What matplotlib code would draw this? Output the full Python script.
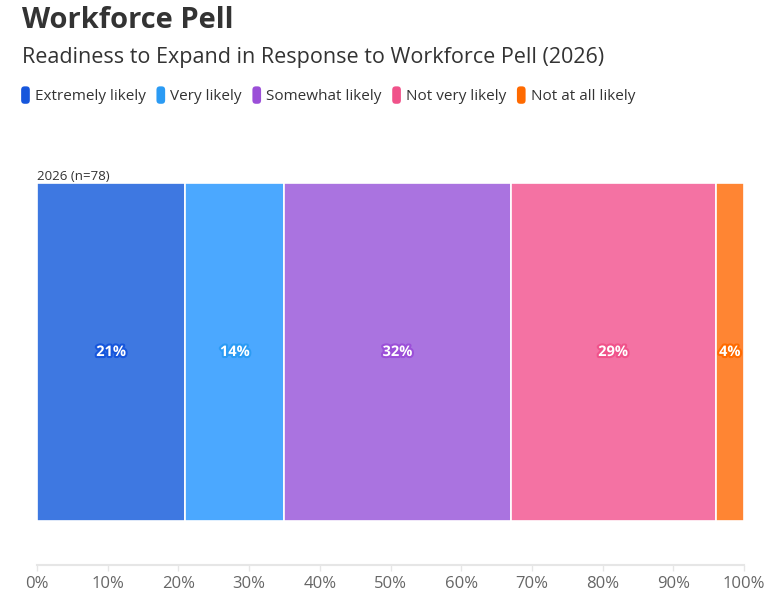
import matplotlib
matplotlib.use("Agg")
import matplotlib.pyplot as plt
import matplotlib.patheffects as pe
from matplotlib.patches import Patch, FancyBboxPatch
from matplotlib.legend_handler import HandlerPatch
from matplotlib.ticker import FuncFormatter, MultipleLocator

plt.rcParams['font.family'] = ['Open Sans', 'DejaVu Sans']

categories = ["Extremely likely", "Very likely", "Somewhat likely", "Not very likely", "Not at all likely"]
values = [21, 14, 32, 29, 4]
row_label = "2026 (n=78)"
bar_colors = ["#3e78e1", "#4ba8ff", "#aa73e0", "#f472a3", "#ff8533"]
base_colors = ["#1656dc", "#2b9bf4", "#9b4fd8", "#f0528a", "#ff6a00"]


class RoundHandler(HandlerPatch):
    def create_artists(self, legend, orig_handle, xdescent, ydescent, width, height, fontsize, trans):
        p = FancyBboxPatch((-xdescent + 1, -ydescent - 1), width - 2, height + 2,
                           boxstyle="round,pad=0,rounding_size=2.5",
                           facecolor=orig_handle.get_facecolor(), edgecolor="none",
                           transform=trans)
        return [p]


fig = plt.figure(figsize=(7.8, 6.0), dpi=100)
ax = fig.add_axes([37/780, 1-565/600, (744-37)/780, (565-183)/600])

left = 0
for cat, v, c, bc in zip(categories, values, bar_colors, base_colors):
    ax.barh(0, v, left=left, height=1.0, color=c, edgecolor="white", linewidth=1.2)
    ax.text(left + v/2, 0, f"{v}%", ha="center", va="center", color="white",
            fontsize=10.5, fontweight="bold",
            path_effects=[pe.withStroke(linewidth=3, foreground=bc)])
    left += v

ax.set_xlim(0, 100)
ax.set_ylim(-0.5 - 44/338, 0.5)
ax.xaxis.set_major_locator(MultipleLocator(10))
ax.xaxis.set_major_formatter(FuncFormatter(lambda x, p: f"{int(x)}%"))
ax.set_yticks([])
for s in ["top", "right", "left"]:
    ax.spines[s].set_visible(False)
ax.spines["bottom"].set_color("#e6e6e6")
ax.spines["bottom"].set_linewidth(1.5)
ax.tick_params(axis="x", colors="#e6e6e6", length=4, width=1, labelcolor="#666666",
               labelsize=12, pad=4)
ax.text(0, 0.5, row_label, transform=ax.transData, ha="left", va="bottom",
        fontsize=9.5, color="#333333")

fig.text(22/780, 1-21/600, "Workforce Pell", fontsize=21, fontweight="bold",
         color="#333333", ha="left", va="center")
fig.text(22/780, 1-57/600, "Readiness to Expand in Response to Workforce Pell (2026)",
         fontsize=15.5, color="#333333", ha="left", va="center")

handles = [Patch(facecolor=c, edgecolor=c, label=cat) for cat, c in zip(categories, base_colors)]
leg = fig.legend(handles=handles, loc="center left", bbox_to_anchor=(6/780, 1-96/600),
                 ncol=5, frameon=False, handlelength=0.75, handleheight=1.1,
                 handletextpad=0.25, columnspacing=0.6, fontsize=11,
                 handler_map={Patch: RoundHandler()})
for t in leg.get_texts():
    t.set_color("#333333")

fig.savefig("out.png", dpi=100)
